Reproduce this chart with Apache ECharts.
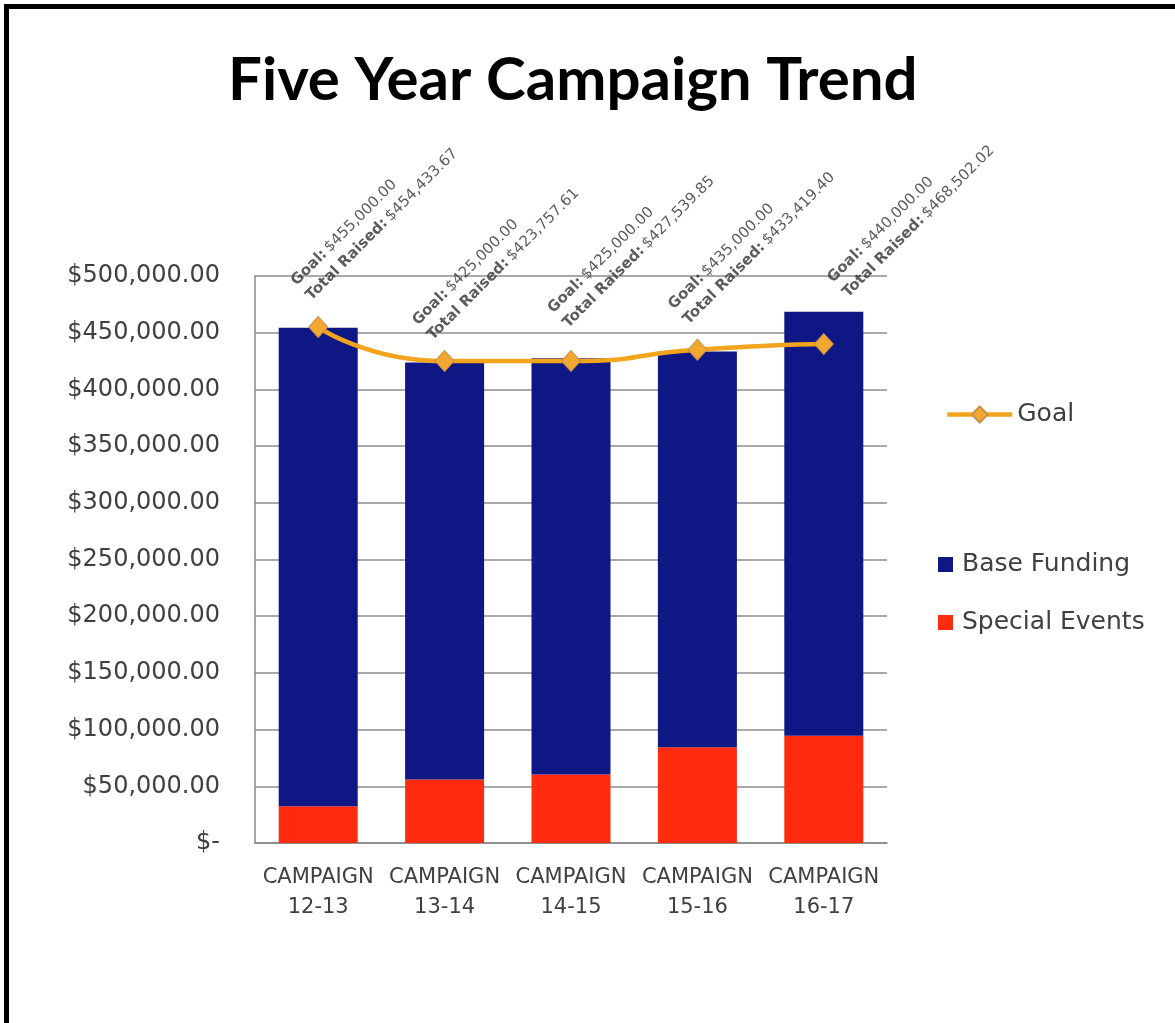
<!DOCTYPE html>
<html>
<head>
<meta charset="utf-8">
<script src="https://cdn.jsdelivr.net/npm/echarts@6/dist/echarts.min.js"></script>
<style>
html,body{margin:0;padding:0;background:#fff;}
#chart{width:1175px;height:1023px;}
</style>
</head>
<body>
<div id="chart"></div>
<script>
var categories = ['CAMPAIGN\n12-13', 'CAMPAIGN\n13-14', 'CAMPAIGN\n14-15', 'CAMPAIGN\n15-16', 'CAMPAIGN\n16-17'];
var goals = [455000, 425000, 425000, 435000, 440000];
var totalRaised = [454433.67, 423757.61, 427539.85, 433419.40, 468502.02];
var specialEvents = [32500, 56000, 60500, 84500, 94500];
var baseFunding = totalRaised.map(function (t, i) { return Math.round((t - specialEvents[i]) * 100) / 100; });
var yTicks = { min: 0, max: 500000, interval: 50000 };

function money(v) {
  return '$' + v.toLocaleString('en-US', { minimumFractionDigits: 2, maximumFractionDigits: 2 });
}

// label anchor shifts (px) relative to bar top centre
var labelShift = [[-17, -37], [-22, -32], [-13, -40], [-19, -37], [14, -24]];

var labelData = totalRaised.map(function (t, i) {
  return {
    value: [i, t],
    label: {
      show: true,
      position: labelShift[i],
      rotate: 45,
      align: 'left',
      verticalAlign: 'middle',
      formatter: '{b|Goal:} {n|' + money(goals[i]) + '}\n{b|Total Raised:} {n|' + money(t) + '}'
    }
  };
});

var chart = echarts.init(document.getElementById('chart'));
var txt = '#404040';
chart.setOption({
  animation: false,
  backgroundColor: '#fff',
  graphic: [
    { type: 'rect', shape: { x: 4, y: 4, width: 5, height: 1030 }, style: { fill: '#000' } },
    { type: 'rect', shape: { x: 4, y: 4, width: 1180, height: 5 }, style: { fill: '#000' } }
  ],
  title: {
    text: 'Five Year Campaign Trend',
    left: 223, top: 46,
    textStyle: { fontFamily: 'Lato', fontWeight: 'bold', fontSize: 60, color: '#000' }
  },
  legend: [
    {
      data: ['Goal'],
      left: 940, top: 397,
      itemWidth: 65, itemHeight: 20,
      lineStyle: { width: 4.5 },
      textStyle: { fontFamily: 'DejaVu Sans', fontSize: 25, color: txt }
    },
    {
      data: ['Base Funding', 'Special Events'],
      orient: 'vertical',
      left: 933, top: 547,
      itemWidth: 15, itemHeight: 15, itemGap: 33,
      icon: 'rect',
      textStyle: { fontFamily: 'DejaVu Sans', fontSize: 25, color: txt, padding: [0, 0, 0, 4] }
    }
  ],
  grid: { left: 255, right: 288, top: 276, bottom: 180, containLabel: false },
  xAxis: {
    type: 'category',
    data: categories,
    axisLine: { lineStyle: { color: '#888', width: 1.5 } },
    axisTick: { show: false },
    axisLabel: { interval: 0, margin: 20, fontFamily: 'DejaVu Sans', fontSize: 21, lineHeight: 30, color: txt }
  },
  yAxis: {
    type: 'value',
    min: yTicks.min, max: yTicks.max, interval: yTicks.interval,
    axisLine: { show: true, lineStyle: { color: '#888', width: 1.5 } },
    axisTick: { show: false },
    splitLine: { lineStyle: { color: '#8c8c8c', width: 1.5 } },
    axisLabel: {
      margin: 35, fontFamily: 'DejaVu Sans', fontSize: 24, color: txt,
      formatter: function (v) { return v === 0 ? '$-' : money(v); }
    }
  },
  series: [
    {
      name: 'Special Events', type: 'bar', stack: 'total', data: specialEvents,
      barWidth: '62.5%', itemStyle: { color: '#FF2B0E' }
    },
    {
      name: 'Base Funding', type: 'bar', stack: 'total', data: baseFunding,
      barWidth: '62.5%', itemStyle: { color: '#0F1785' }
    },
    {
      name: 'Goal', type: 'line', data: goals, smooth: 0.6, z: 5,
      symbol: 'diamond', symbolSize: [19, 21],
      lineStyle: { color: '#F2A51C', width: 4.5 },
      itemStyle: { color: '#F0A830', borderColor: '#C8904A', borderWidth: 1 }
    },
    {
      name: 'labels', type: 'scatter', data: labelData, z: 6,
      symbolSize: 0.1, itemStyle: { color: 'rgba(0,0,0,0)' },
      silent: true,
      label: {
        rich: {
          b: { fontFamily: 'DejaVu Sans', fontWeight: 'bold', fontSize: 15, color: '#333', lineHeight: 21 },
          n: { fontFamily: 'DejaVu Sans', fontSize: 15, color: '#333', lineHeight: 21 }
        }
      }
    }
  ]
});
</script>
</body>
</html>
